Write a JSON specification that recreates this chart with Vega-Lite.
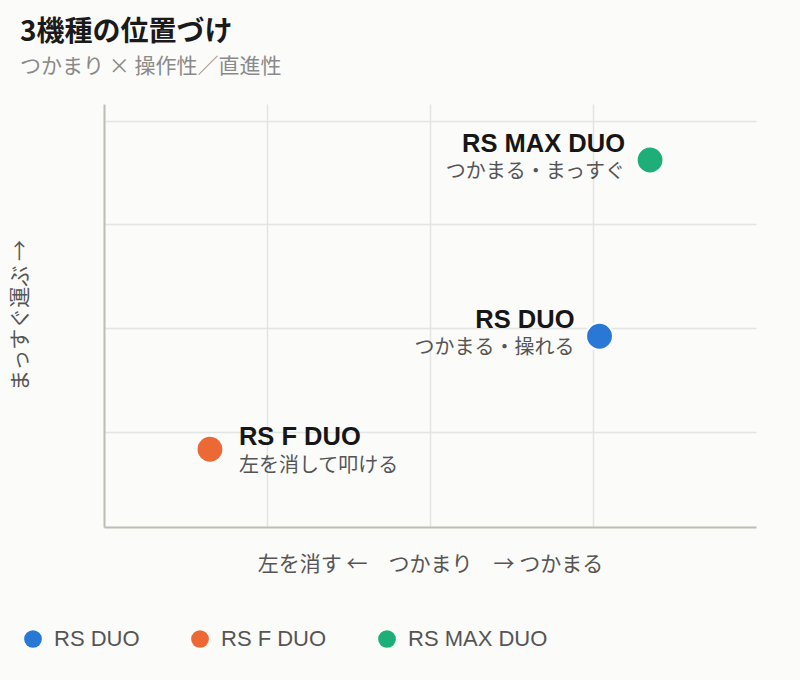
{
  "$schema": "https://vega.github.io/schema/vega-lite/v6.json",
  "width": 652,
  "height": 423,
  "autosize": {"type": "none"},
  "padding": {"left": 104, "top": 104, "right": 44, "bottom": 153},
  "background": "#fbfbf9",
  "title": {
    "text": "3機種の位置づけ",
    "subtitle": "つかまり × 操作性／直進性",
    "anchor": "start",
    "frame": "group",
    "dx": -84,
    "offset": 27,
    "fontSize": 28,
    "fontWeight": "bold",
    "color": "#1a1a1a",
    "subtitleFontSize": 21,
    "subtitleColor": "#8a8a8a",
    "subtitlePadding": 9
  },
  "data": {
    "values": [
      {"name": "RS DUO", "note": "つかまる・操れる", "grip": 3.04, "straight": 0.92},
      {"name": "RS F DUO", "note": "左を消して叩ける", "grip": 0.65, "straight": -0.17},
      {"name": "RS MAX DUO", "note": "つかまる・まっすぐ", "grip": 3.35, "straight": 2.62}
    ]
  },
  "encoding": {
    "x": {
      "field": "grip",
      "type": "quantitative",
      "scale": {"domain": [0, 4], "nice": false, "zero": false},
      "axis": {
        "title": "左を消す ←　つかまり　→ つかまる",
        "values": [1, 2, 3],
        "labels": false,
        "ticks": false,
        "titleY": 43,
        "titleBaseline": "alphabetic"
      }
    },
    "y": {
      "field": "straight",
      "type": "quantitative",
      "scale": {"domain": [-0.92, 3.16], "nice": false, "zero": false},
      "axis": {
        "title": "まっすぐ運ぶ →",
        "values": [0, 1, 2, 3],
        "labels": false,
        "ticks": false,
        "titleX": -84,
        "titleY": 211,
        "titleAngle": -90,
        "titleAlign": "center",
        "titleBaseline": "middle"
      }
    }
  },
  "layer": [
    {
      "mark": {"type": "point", "shape": "circle", "filled": true, "size": 720, "opacity": 1, "stroke": "white", "strokeWidth": 2},
      "encoding": {
        "color": {
          "field": "name",
          "type": "nominal",
          "scale": {"domain": ["RS DUO", "RS F DUO", "RS MAX DUO"], "range": ["#2a78d6", "#ec6935", "#1eae78"]},
          "legend": {
            "title": null,
            "orient": "none",
            "direction": "horizontal",
            "legendX": -82,
            "legendY": 524,
            "symbolType": "circle",
            "symbolSize": 314,
            "symbolStrokeWidth": 0,
            "labelFontSize": 22,
            "labelColor": "#555555",
            "labelOffset": 10,
            "columnPadding": 49
          }
        }
      }
    },
    {
      "transform": [{"filter": "datum.name !== 'RS F DUO'"}],
      "mark": {"type": "text", "align": "right", "baseline": "alphabetic", "dx": -25, "dy": -8, "fontSize": 25.5, "fontWeight": "bold", "color": "#161616", "font": "Liberation Sans"},
      "encoding": {"text": {"field": "name"}}
    },
    {
      "transform": [{"filter": "datum.name !== 'RS F DUO'"}],
      "mark": {"type": "text", "align": "right", "baseline": "alphabetic", "dx": -25, "dy": 18, "fontSize": 20, "color": "#555555"},
      "encoding": {"text": {"field": "note"}}
    },
    {
      "transform": [{"filter": "datum.name === 'RS F DUO'"}],
      "mark": {"type": "text", "align": "left", "baseline": "alphabetic", "dx": 29, "dy": -4, "fontSize": 25.5, "fontWeight": "bold", "color": "#161616", "font": "Liberation Sans"},
      "encoding": {"text": {"field": "name"}}
    },
    {
      "transform": [{"filter": "datum.name === 'RS F DUO'"}],
      "mark": {"type": "text", "align": "left", "baseline": "alphabetic", "dx": 29, "dy": 23, "fontSize": 20, "color": "#555555"},
      "encoding": {"text": {"field": "note"}}
    }
  ],
  "config": {
    "font": "Noto Sans CJK JP",
    "view": {"stroke": null},
    "axis": {
      "grid": true,
      "gridColor": "#e4e4e2",
      "gridWidth": 1.5,
      "domainColor": "#bdbdb6",
      "domainWidth": 2,
      "titleFontSize": 21,
      "titleFontWeight": "normal",
      "titleColor": "#555555",
      "titleFont": "Noto Sans CJK JP"
    },
    "legend": {"labelFont": "Liberation Sans"},
    "title": {"font": "Noto Sans CJK JP", "subtitleFont": "Noto Sans CJK JP"},
    "text": {"font": "Noto Sans CJK JP"}
  }
}
